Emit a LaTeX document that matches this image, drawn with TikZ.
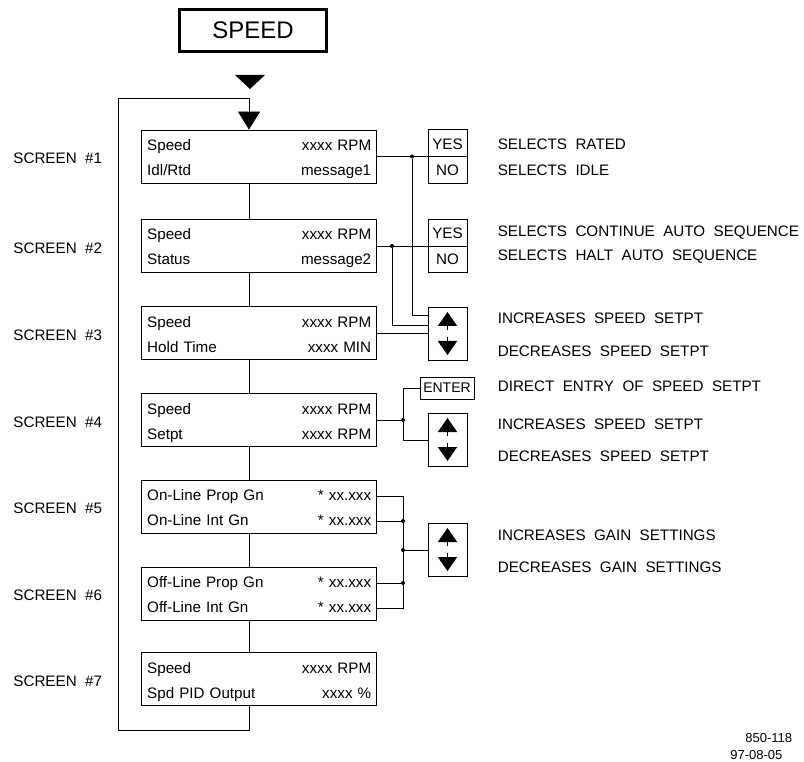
\documentclass[tikz,border=0pt]{standalone}
\usepackage{fontspec}
\setmainfont{Liberation Sans}[WordSpace=2]
\usetikzlibrary{calc,arrows.meta}

\newcommand{\lcdfont}{\fontsize{15.2}{25}\selectfont\spaceskip=6.5pt plus 1pt\relax}
\tikzset{
  lcd/.style={draw, minimum width=235pt, minimum height=53pt, text width=224pt,
    inner xsep=5.5pt, inner ysep=0pt, align=left, text height=9pt, text depth=21pt,
    font=\lcdfont},
  btn/.style={draw, minimum width=39pt, minimum height=53.5pt, inner sep=0pt},
  btntxt/.style={inner sep=0pt, font=\fontsize{15.2}{18}\selectfont},
  scrlabel/.style={anchor=west, inner sep=0pt, font=\fontsize{15.2}{18}\selectfont},
  notetxt/.style={anchor=west, inner sep=0pt, font=\fontsize{15.2}{18}\selectfont},
  jdot/.style={circle, fill, inner sep=0pt, minimum size=4pt},
}
% up/down arrow pair drawn inside a button
\newcommand{\updown}[1]{%
  \fill ($(#1)+(-9.7,-8)$) -- ($(#1)+(9.7,-8)$) -- ($(#1)+(0,-22)$) -- cycle;
  \fill ($(#1)+(-9.7,7)$) -- ($(#1)+(9.7,7)$) -- ($(#1)+(0,21)$) -- cycle;
  \draw ($(#1)+(0,-8)$) -- ($(#1)+(0,-4)$);
  \draw ($(#1)+(0,3)$) -- ($(#1)+(0,7)$);
}

\begin{document}
\begin{tikzpicture}[x=1pt, y=-1pt, line width=0.8pt]
\useasboundingbox (0,0) rectangle (804,762);

% title
\node[draw, line width=2.6pt, minimum width=147pt, minimum height=42.5pt,
  font=\fontsize{24}{28}\selectfont] (title) at (253,30.5) {SPEED};
\fill (235,75) -- (265,75) -- (250,89) -- cycle;

% screens
\node[lcd] (s1) at (259.2,156.5) {Speed\hfill xxxx RPM\\Idl/Rtd\hfill message1};
\node[lcd] (s2) at (259.2,246) {Speed\hfill xxxx RPM\\Status\hfill message2};
\node[lcd] (s3) at (259.2,333) {Speed\hfill xxxx RPM\\Hold Time\hfill xxxx MIN};
\node[lcd] (s4) at (259.2,420) {Speed\hfill xxxx RPM\\Setpt\hfill xxxx RPM};
\node[lcd] (s5) at (259.2,506.5) {On-Line Prop Gn\hfill * xx.xxx\\On-Line Int Gn\hfill * xx.xxx};
\node[lcd] (s6) at (259.2,593.5) {Off-Line Prop Gn\hfill * xx.xxx\\Off-Line Int Gn\hfill * xx.xxx};
\node[lcd] (s7) at (259.2,679) {Speed\hfill xxxx RPM\\Spd PID Output\hfill xxxx \%};

\coordinate (lx) at (13,0);
\foreach \i in {1,...,7}
  \node[scrlabel] (lab\i) at ($(s\i.west -| lx)+(0,2)$) {SCREEN \#\i};

% chain and return loop
\coordinate (cx) at (249,0);
\foreach \a/\b in {s1/s2,s2/s3,s3/s4,s4/s5,s5/s6,s6/s7}
  \draw (\a.south -| cx) -- (\b.north -| cx);
\coordinate (lb) at (118,730);
\coordinate (lt) at (118,98);
\draw[-{Triangle[width=22pt,length=18pt]}] (s7.south -| cx) |- (lb) -- (lt) -| (s1.north -| cx);

% buttons
\node[btn] (yn1) at (447.5,156.5) {};
\node[btn] (yn2) at (447.5,246) {};
\node[btn] (ar1) at (447.5,334) {};
\node[draw, minimum width=54pt, minimum height=22pt, inner sep=0pt,
  font=\fontsize{14}{16}\selectfont] (ent) at (447,388) {ENTER};
\node[btn] (ar2) at (447.5,440) {};
\node[btn] (ar3) at (447.5,550) {};
\draw (yn1.west) -- (yn1.east);
\draw (yn2.west) -- (yn2.east);
\node[btntxt] (yes1) at ($(yn1)+(0,-12.5)$) {YES};
\node[btntxt] (no1) at ($(yn1)+(0,13.5)$) {NO};
\node[btntxt] (yes2) at ($(yn2)+(0,-12.5)$) {YES};
\node[btntxt] (no2) at ($(yn2)+(0,13.5)$) {NO};
\foreach \k in {ar1,ar2,ar3} {\updown{\k}}

% wiring
\coordinate (j1) at (412,0);
\coordinate (j2) at (392,0);
\coordinate (j4) at (403,0);
\coordinate (ar1a) at ($(ar1.west)+(0,-19)$);
\coordinate (ar1b) at ($(ar1.west)+(0,-9)$);
\draw (s1.east) -- (yn1.west);
\node[jdot] (d1) at (s1.east -| j1) {};
\draw (d1) |- (ar1a);
\draw (s2.east) -- (yn2.west);
\node[jdot] (d2) at (s2.east -| j2) {};
\draw (d2) |- (ar1b);
\draw (s3.east) -- (s3.east -| ar1.west);
\node[jdot] (d4) at (s4.east -| j4) {};
\draw (s4.east) -- (d4);
\draw (ent.west) -| (d4) |- (ar2.west);
\coordinate (r5a) at ($(s5.east)+(0,-10)$);
\coordinate (r5b) at ($(s5.east)+(0,14.5)$);
\coordinate (r6a) at ($(s6.east)+(0,-10.5)$);
\coordinate (r6b) at ($(s6.east)+(0,14.5)$);
\draw (r5a) -| (r6b -| j4) -- (r6b);
\draw (r5b) -- (r5b -| j4);
\draw (r6a) -- (r6a -| j4);
\node[jdot] (d5) at (r5b -| j4) {};
\node[jdot] (d6) at (r6a -| j4) {};
\node[jdot] (d56) at (ar3.west -| j4) {};
\draw (d56) -- (ar3.west);

% button meanings
\node[notetxt] (t1a) at ($(yn1.east)+(30,-12.5)$) {SELECTS RATED};
\node[notetxt] (t1b) at ($(yn1.east)+(30,13.5)$) {SELECTS IDLE};
\node[notetxt] (t2a) at ($(yn2.east)+(30,-13)$) {SELECTS CONTINUE AUTO SEQUENCE};
\node[notetxt] (t2b) at ($(yn2.east)+(30,11)$) {SELECTS HALT AUTO SEQUENCE};
\node[notetxt] (t3a) at ($(ar1.east)+(30,-16)$) {INCREASES SPEED SETPT};
\node[notetxt] (t3b) at ($(ar1.east)+(30,17)$) {DECREASES SPEED SETPT};
\node[notetxt] (t4e) at ($(ent.east)+(23,-2)$) {DIRECT ENTRY OF SPEED SETPT};
\node[notetxt] (t4a) at ($(ar2.east)+(30,-16)$) {INCREASES SPEED SETPT};
\node[notetxt] (t4b) at ($(ar2.east)+(30,16)$) {DECREASES SPEED SETPT};
\node[notetxt] (t5a) at ($(ar3.east)+(30,-15)$) {INCREASES GAIN SETTINGS};
\node[notetxt] (t5b) at ($(ar3.east)+(30,17)$) {DECREASES GAIN SETTINGS};

% drawing number
\node[anchor=west, inner sep=0pt, font=\fontsize{13}{15}\selectfont] (dwgno) at (745,738) {850-118};
\node[anchor=west, inner sep=0pt, font=\fontsize{13}{15}\selectfont] (dwgdate) at (730,755.5) {97-08-05};
\end{tikzpicture}
\end{document}
